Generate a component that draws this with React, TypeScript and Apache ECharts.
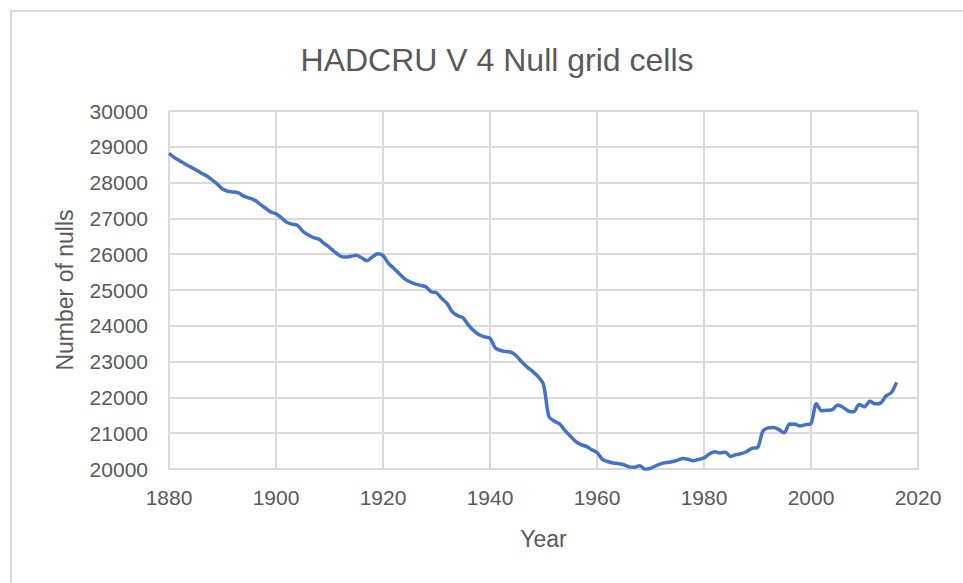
import React, { useEffect, useRef } from "react";
import * as echarts from "echarts";

const years: number[] = [];
for (let y = 1880; y <= 2016; y++) years.push(y);

const nulls: number[] = [
  28820, 28700, 28610, 28520, 28440, 28360, 28270, 28190, 28080, 27960,
  27820, 27760, 27740, 27710, 27620, 27570, 27510, 27400, 27290, 27180,
  27130, 27020, 26890, 26840, 26810, 26640, 26540, 26460, 26420, 26300,
  26190, 26060, 25950, 25920, 25940, 25970, 25900, 25820, 25920, 26010,
  25960, 25750, 25610, 25460, 25320, 25230, 25170, 25130, 25090, 24950,
  24920, 24760, 24620, 24380, 24280, 24220, 24010, 23860, 23750, 23690,
  23650, 23380, 23310, 23280, 23260, 23150, 22980, 22840, 22720, 22580,
  22360, 21470, 21340, 21260, 21080, 20920, 20770, 20680, 20630, 20540,
  20460, 20270, 20210, 20170, 20150, 20120, 20060, 20050, 20090, 19990,
  20020, 20090, 20150, 20180, 20200, 20240, 20290, 20270, 20230, 20270,
  20310, 20420, 20480, 20450, 20470, 20350, 20400, 20430, 20490, 20580,
  20600, 21050, 21150, 21160, 21100, 21010, 21260, 21250, 21200, 21240,
  21270, 21820, 21630, 21640, 21660, 21790, 21720, 21620, 21600, 21800,
  21740, 21890, 21820, 21840, 22040, 22130, 22420,
];

const titleText = "HADCRU V 4 Null grid cells";
const xName = "Year";
const yName = "Number of nulls";

const FONT = "'Liberation Sans', Arial, sans-serif";
const TXT = "#595959";
const GRID = "#d9d9d9";

export default function App() {
  const ref = useRef<HTMLDivElement>(null);
  useEffect(() => {
    document.body.style.margin = "0";
    const chart = echarts.init(ref.current!, null, { renderer: "svg" });
    chart.setOption({
      animation: false,
      backgroundColor: "#ffffff",
      textStyle: { fontFamily: FONT },
      title: {
        text: titleText,
        left: 492,
        top: 39,
        textAlign: "center",
        textStyle: { fontFamily: FONT, fontSize: 32, fontWeight: "normal", color: TXT },
      },
      graphic: [
        {
          type: "rect",
          shape: { x: 11, y: 11, width: 1000, height: 700 },
          style: { fill: "none", stroke: GRID, lineWidth: 2 },
          silent: true,
        },
      ],
      grid: { left: 169, right: 45, top: 111, bottom: 114 },
      xAxis: {
        type: "value",
        min: 1880,
        max: 2020,
        interval: 20,
        name: xName,
        nameLocation: "middle",
        nameGap: 58,
        nameTextStyle: { fontFamily: FONT, fontSize: 23, color: TXT },
        axisLine: { show: true, lineStyle: { color: GRID, width: 2 } },
        axisTick: { show: false },
        axisLabel: {
          fontFamily: FONT,
          fontSize: 21,
          color: TXT,
          margin: 18,
          formatter: (v: number) => String(v),
        },
        splitLine: { show: true, lineStyle: { color: GRID, width: 2 } },
      },
      yAxis: {
        type: "value",
        min: 20000,
        max: 30000,
        interval: 1000,
        name: yName,
        nameLocation: "middle",
        nameGap: 93,
        nameTextStyle: { fontFamily: FONT, fontSize: 23, color: TXT },
        axisLine: { show: false },
        axisTick: { show: false },
        axisLabel: {
          fontFamily: FONT,
          fontSize: 21,
          color: TXT,
          margin: 21,
          formatter: (v: number) => String(v),
        },
        splitLine: { show: true, lineStyle: { color: GRID, width: 2 } },
      },
      series: [
        {
          type: "line",
          data: years.map((y, i) => [y, nulls[i]]),
          showSymbol: false,
          smooth: 0.3,
          lineStyle: { color: "#4472C4", width: 3.5 },
        },
      ],
    });
    return () => chart.dispose();
  }, []);
  return <div ref={ref} style={{ width: 963, height: 583 }} />;
}
